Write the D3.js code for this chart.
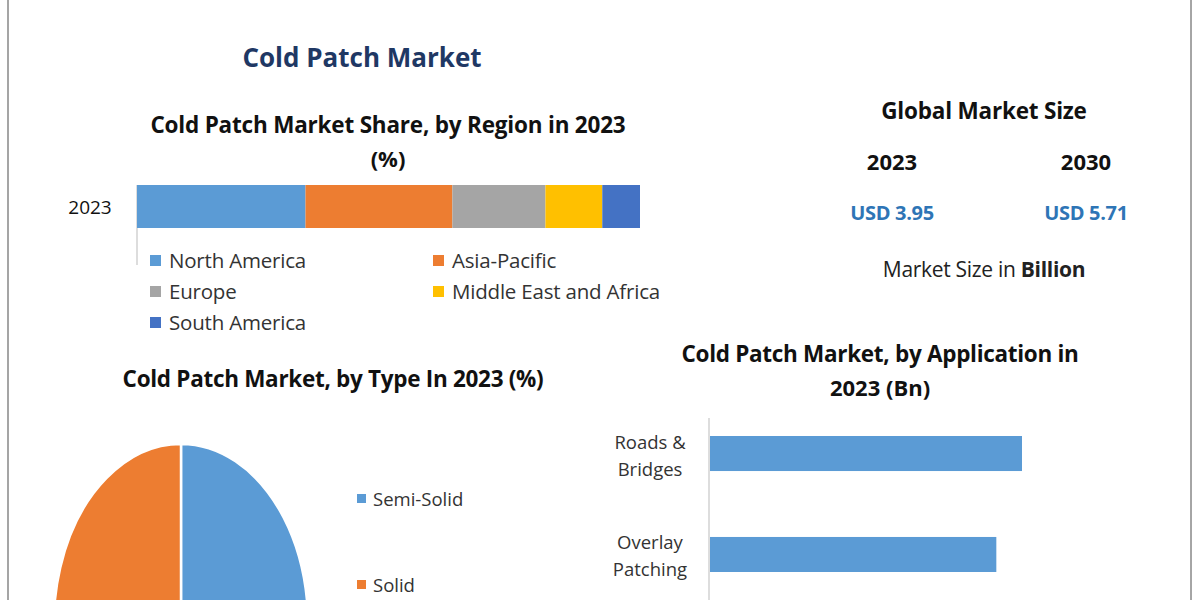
<!DOCTYPE html><html><head><meta charset="utf-8">
<script src="https://cdn.jsdelivr.net/npm/d3@7"></script>
<style>body{margin:0;background:#fff}text{font-family:"Open Sans",sans-serif}</style></head><body>
<svg id="c" width="1200" height="600"></svg>
<script>
const regions=["North America","Asia-Pacific","Europe","Middle East and Africa","South America"];
const regionShare=[33.5,29.2,18.5,11.3,7.5];
const regionColors=["#5b9bd5","#ed7d31","#a5a5a5","#ffc000","#4472c4"];
const types=["Semi-Solid","Solid"];
const typeShare=[60,40];
const typeColors=["#5b9bd5","#ed7d31"];
const apps=["Roads & Bridges","Overlay Patching"];
const appValues=[1.58,1.45];
const years=["2023","2030"];
const sizes=["USD 3.95","USD 5.71"];

const svg=d3.select("#c");
svg.append("rect").attr("x",8).attr("y",-2).attr("width",1183).attr("height",620).attr("fill","none").attr("stroke","#888").attr("stroke-width",1.5);
const T=(x,y,t,o={})=>svg.append("text").attr("x",x).attr("y",y).attr("text-anchor",o.a||"middle")
 .attr("font-size",o.s||20).attr("font-weight",o.w||"bold").attr("fill",o.c||"#111").attr("letter-spacing",o.l||0).text(t);
T(362,67,"Cold Patch Market",{s:26,c:"#1f3864"});
T(388,133,"Cold Patch Market Share, by Region in 2023",{s:22.5,l:-0.2});
T(388,167,"(%)",{s:22});
T(984,119,"Global Market Size",{s:22.5,l:-0.2});
const xs=d3.scalePoint().domain(years).range([892,1086]);
years.forEach((y,i)=>{T(xs(y),170,y,{s:22});T(xs(y),220,sizes[i],{s:20,c:"#2e75b6",l:-0.3});});
const ms=svg.append("text").attr("x",984).attr("y",277).attr("text-anchor","middle").attr("font-size",21).attr("fill","#222").attr("letter-spacing",-0.3);
ms.append("tspan").text("Market Size in ");ms.append("tspan").attr("font-weight","bold").text("Billion");

const xr=d3.scaleLinear().domain([0,d3.sum(regionShare)]).range([137,640]);
const cum=d3.cumsum([0,...regionShare]);
svg.append("line").attr("x1",137).attr("x2",137).attr("y1",185).attr("y2",265).attr("stroke","#bbb");
T(90,214,"2023",{s:19,w:"normal"});
regionShare.forEach((v,i)=>svg.append("rect").attr("x",xr(cum[i])).attr("y",185).attr("width",xr(cum[i+1])-xr(cum[i])).attr("height",43).attr("fill",regionColors[i]));
const lp=[[150,268],[433,268],[150,299],[433,299],[150,330]];
regions.forEach((r,i)=>{svg.append("rect").attr("x",lp[i][0]).attr("y",lp[i][1]-13).attr("width",11).attr("height",11).attr("fill",regionColors[i]);
 T(lp[i][0]+19,lp[i][1],r,{a:"start",s:20.5,w:"normal",c:"#333",l:-0.2});});

T(333,387,"Cold Patch Market, by Type In 2023 (%)",{s:22.5,l:-0.3});
const pie=d3.pie().sort(null)(typeShare);
const arc=d3.arc().innerRadius(0).outerRadius(127);
const pg=svg.append("g").attr("transform","translate(181,623) scale(1,1.41)");
pg.selectAll("path").data(pie).join("path").attr("d",arc).attr("fill",(d,i)=>typeColors[i]).attr("stroke","#fff").attr("stroke-width",2.5).attr("vector-effect","non-scaling-stroke");
[[357,506],[357,592]].forEach((p,i)=>{svg.append("rect").attr("x",p[0]).attr("y",p[1]-12).attr("width",9).attr("height",9).attr("fill",typeColors[i]);
 T(p[0]+16,p[1],types[i],{a:"start",s:18.5,w:"normal",c:"#333"});});

T(880,362,"Cold Patch Market, by Application in",{s:22.5,l:-0.3});
T(880,396,"2023 (Bn)",{s:22});
const xa=d3.scaleLinear().domain([0,1.58]).range([710,1022]);
const ya=d3.scaleBand().domain(apps).range([436,572]).paddingInner(0.653).paddingOuter(0);
svg.append("line").attr("x1",709).attr("x2",709).attr("y1",418).attr("y2",600).attr("stroke","#bbb");
apps.forEach((a,i)=>{svg.append("rect").attr("x",xa(0)).attr("y",ya(a)).attr("width",xa(appValues[i])-xa(0)).attr("height",ya.bandwidth()).attr("fill","#5b9bd5");
 const parts=a==="Roads & Bridges"?["Roads &","Bridges"]:["Overlay","Patching"];
 const cy=ya(a)+ya.bandwidth()/2;
 T(650,cy-5,parts[0],{s:18.5,w:"normal",c:"#333"});T(650,cy+22,parts[1],{s:18.5,w:"normal",c:"#333"});});
</script></body></html>
